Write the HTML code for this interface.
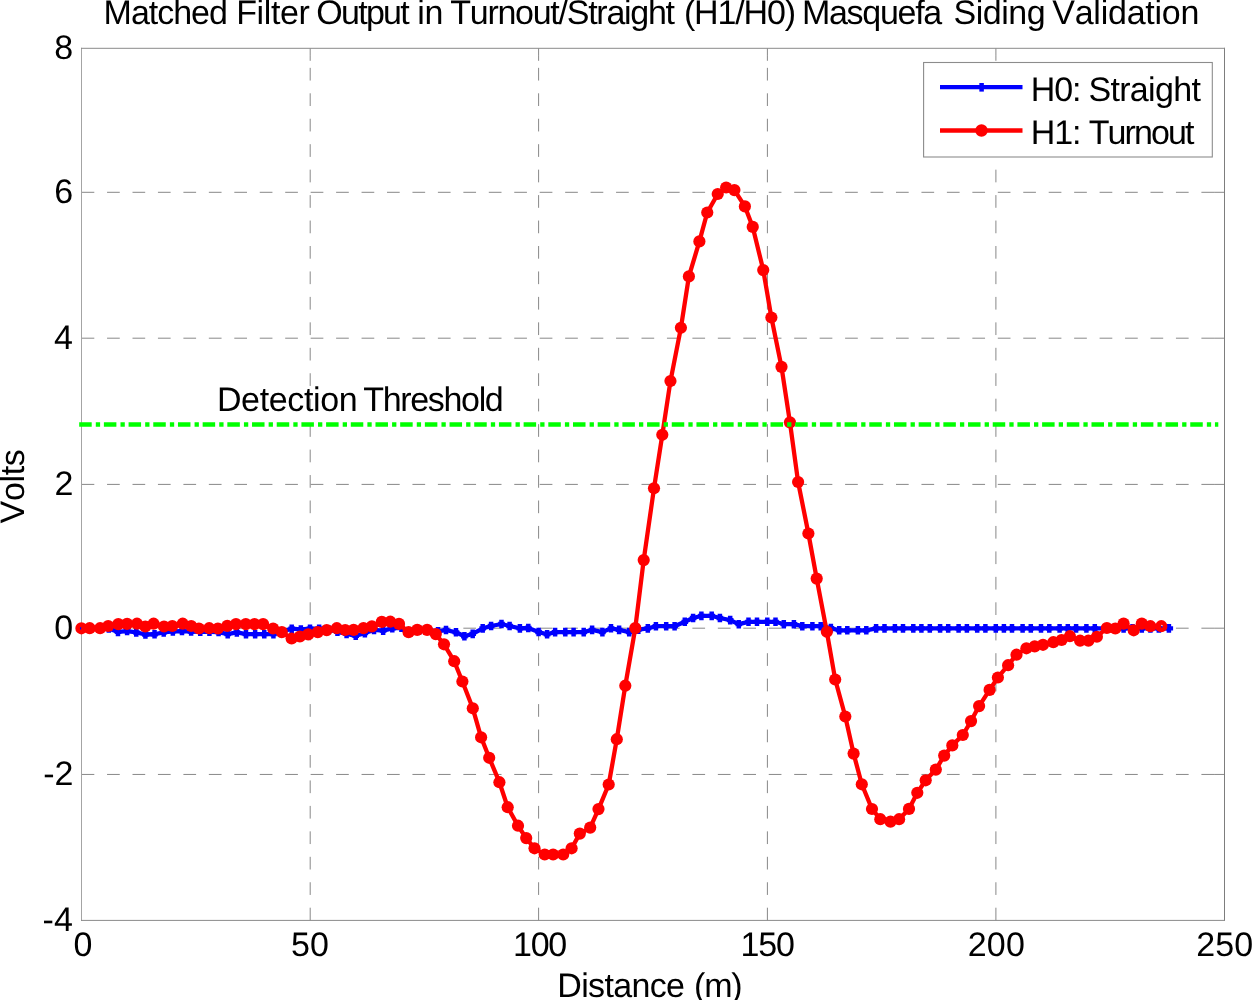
<!DOCTYPE html>
<html lang="en"><head><meta charset="utf-8"><title>Matched Filter Output</title>
<style>html,body{margin:0;padding:0;background:#fff;}body{width:1252px;height:1000px;overflow:hidden;}svg{display:block;}text{font-family:"Liberation Sans",Arial,Helvetica,sans-serif;fill:#000;font-kerning:none;white-space:pre;text-rendering:geometricPrecision;}</style></head><body>
<svg width="1252" height="1000" viewBox="0 0 1252 1000">
<rect width="1252" height="1000" fill="#fff"/>
<g stroke="#888888" stroke-width="1" fill="none" stroke-dasharray="12.7 12.75">
<line x1="310.2" y1="920.4" x2="310.2" y2="48.3"/>
<line x1="538.6" y1="920.4" x2="538.6" y2="48.3"/>
<line x1="767.4" y1="920.4" x2="767.4" y2="48.3"/>
<line x1="995.9" y1="920.4" x2="995.9" y2="48.3"/>
<line x1="81.6" y1="192.3" x2="1224.4" y2="192.3"/>
<line x1="81.6" y1="338.2" x2="1224.4" y2="338.2"/>
<line x1="81.6" y1="484.4" x2="1224.4" y2="484.4"/>
<line x1="81.6" y1="628.2" x2="1224.4" y2="628.2"/>
<line x1="81.6" y1="774.45" x2="1224.4" y2="774.45"/>
</g>
<g stroke="#888888" stroke-width="1" fill="none">
<line x1="310.2" y1="55.1" x2="310.2" y2="60.8"/>
<line x1="538.6" y1="55.1" x2="538.6" y2="60.8"/>
<line x1="767.4" y1="55.1" x2="767.4" y2="60.8"/>
<line x1="995.9" y1="55.1" x2="995.9" y2="60.8"/>
<line x1="1214.1" y1="192.3" x2="1224.4" y2="192.3"/>
<line x1="1214.1" y1="338.2" x2="1224.4" y2="338.2"/>
<line x1="1214.1" y1="484.4" x2="1224.4" y2="484.4"/>
<line x1="1214.1" y1="628.2" x2="1224.4" y2="628.2"/>
<line x1="1214.1" y1="774.45" x2="1224.4" y2="774.45"/>
</g>
<g fill="none" stroke-width="1" stroke-linecap="square">
<line x1="81.5" y1="48.3" x2="81.5" y2="920.4" stroke="#a4a4a4"/>
<line x1="1224.5" y1="48.3" x2="1224.5" y2="920.4" stroke="#7d7d7d"/>
<line x1="81.5" y1="48.3" x2="1224.5" y2="48.3" stroke="#8a8a8a"/>
<line x1="81.5" y1="920.4" x2="1224.5" y2="920.4" stroke="#8a8a8a"/>
</g>
<g id="h0">
<polyline fill="none" stroke="#0000ff" stroke-width="4.3" stroke-linejoin="round" points="81.4,628.4 90.54,628.4 99.69,628.4 108.83,628.4 117.98,631.87 127.12,631.06 136.26,632.33 145.41,634.5 154.55,634.27 163.7,632.33 172.84,631.47 181.98,631.07 191.13,631.5 200.27,631.8 209.42,631.8 218.56,632.05 227.7,634.2 236.85,632.4 245.99,634.2 255.14,634.2 264.28,634.2 273.42,634.1 282.57,631.33 291.71,628.71 300.86,629.43 310,628.71 319.14,628.73 328.29,629.35 337.43,631.8 346.58,633.91 355.72,635.77 364.86,633.08 374.01,629.88 383.15,630.69 392.3,628.31 401.44,627.75 410.58,631.99 419.73,630 428.87,630 438.02,631.3 446,630 456,632.3 464.4,636.3 472.7,633.9 482.7,628.4 491.1,626 501.5,624 509.6,626 519.9,628.4 528.3,628 538.6,632 547.1,634.3 555.1,632.1 565.3,632.1 573.6,632.1 583.7,632.1 592.1,629.9 602.4,632.1 611,628.3 619.1,629.9 629.2,632.1 638.3,629.7 647.8,628.4 655.9,626.2 666.2,626.2 674.6,626.2 684.8,621.8 693.1,618 701.4,615.9 711.7,615.9 719.9,618 730.2,620.1 738.8,624.2 748.5,621.8 757,621.8 767.3,621.8 775.5,621.8 783.8,624.2 793.9,624.2 802.3,626.2 812.4,626.2 820.7,626.2 830.9,628.1 839.2,630.3 847.3,630.3 857.9,630.3 866.3,630.3 876.1,628.4 884.5,628.4 894.9,628.4 903,628.4 913.3,628.4 921.4,628.4 929.8,628.4 940.1,628.4 948.2,628.4 958.6,628.4 966.9,628.4 977.2,628.4 985.4,628.4 995.8,628.4 1003.9,628.4 1012,628.4 1022.6,628.4 1030.8,628.4 1041,628.4 1049.3,628.4 1059.6,628.4 1067.8,628.4 1076.1,628.4 1086.4,628.4 1094.8,628.4 1105,628.4 1113.3,628.4 1123.6,628.4 1132.5,628.4 1141.8,628.4 1150.4,628.4 1158.8,628.4 1168.9,628.4"/>
<path fill="#0000ff" d="M79.15 624.1h4.5v8.6h-4.5zM88.29 624.1h4.5v8.6h-4.5zM97.44 624.1h4.5v8.6h-4.5zM106.58 624.1h4.5v8.6h-4.5zM115.73 627.57h4.5v8.6h-4.5zM124.87 626.76h4.5v8.6h-4.5zM134.01 628.03h4.5v8.6h-4.5zM143.16 630.2h4.5v8.6h-4.5zM152.3 629.97h4.5v8.6h-4.5zM161.45 628.03h4.5v8.6h-4.5zM170.59 627.17h4.5v8.6h-4.5zM179.73 626.77h4.5v8.6h-4.5zM188.88 627.2h4.5v8.6h-4.5zM198.02 627.5h4.5v8.6h-4.5zM207.17 627.5h4.5v8.6h-4.5zM216.31 627.75h4.5v8.6h-4.5zM225.45 629.9h4.5v8.6h-4.5zM234.6 628.1h4.5v8.6h-4.5zM243.74 629.9h4.5v8.6h-4.5zM252.89 629.9h4.5v8.6h-4.5zM262.03 629.9h4.5v8.6h-4.5zM271.17 629.8h4.5v8.6h-4.5zM280.32 627.03h4.5v8.6h-4.5zM289.46 624.41h4.5v8.6h-4.5zM298.61 625.13h4.5v8.6h-4.5zM307.75 624.41h4.5v8.6h-4.5zM316.89 624.43h4.5v8.6h-4.5zM326.04 625.05h4.5v8.6h-4.5zM335.18 627.5h4.5v8.6h-4.5zM344.33 629.61h4.5v8.6h-4.5zM353.47 631.47h4.5v8.6h-4.5zM362.61 628.78h4.5v8.6h-4.5zM371.76 625.58h4.5v8.6h-4.5zM380.9 626.39h4.5v8.6h-4.5zM390.05 624.01h4.5v8.6h-4.5zM399.19 623.45h4.5v8.6h-4.5zM408.33 627.69h4.5v8.6h-4.5zM417.48 625.7h4.5v8.6h-4.5zM426.62 625.7h4.5v8.6h-4.5zM435.77 627h4.5v8.6h-4.5zM443.75 625.7h4.5v8.6h-4.5zM453.75 628h4.5v8.6h-4.5zM462.15 632h4.5v8.6h-4.5zM470.45 629.6h4.5v8.6h-4.5zM480.45 624.1h4.5v8.6h-4.5zM488.85 621.7h4.5v8.6h-4.5zM499.25 619.7h4.5v8.6h-4.5zM507.35 621.7h4.5v8.6h-4.5zM517.65 624.1h4.5v8.6h-4.5zM526.05 623.7h4.5v8.6h-4.5zM536.35 627.7h4.5v8.6h-4.5zM544.85 630h4.5v8.6h-4.5zM552.85 627.8h4.5v8.6h-4.5zM563.05 627.8h4.5v8.6h-4.5zM571.35 627.8h4.5v8.6h-4.5zM581.45 627.8h4.5v8.6h-4.5zM589.85 625.6h4.5v8.6h-4.5zM600.15 627.8h4.5v8.6h-4.5zM608.75 624h4.5v8.6h-4.5zM616.85 625.6h4.5v8.6h-4.5zM626.95 627.8h4.5v8.6h-4.5zM636.05 625.4h4.5v8.6h-4.5zM645.55 624.1h4.5v8.6h-4.5zM653.65 621.9h4.5v8.6h-4.5zM663.95 621.9h4.5v8.6h-4.5zM672.35 621.9h4.5v8.6h-4.5zM682.55 617.5h4.5v8.6h-4.5zM690.85 613.7h4.5v8.6h-4.5zM699.15 611.6h4.5v8.6h-4.5zM709.45 611.6h4.5v8.6h-4.5zM717.65 613.7h4.5v8.6h-4.5zM727.95 615.8h4.5v8.6h-4.5zM736.55 619.9h4.5v8.6h-4.5zM746.25 617.5h4.5v8.6h-4.5zM754.75 617.5h4.5v8.6h-4.5zM765.05 617.5h4.5v8.6h-4.5zM773.25 617.5h4.5v8.6h-4.5zM781.55 619.9h4.5v8.6h-4.5zM791.65 619.9h4.5v8.6h-4.5zM800.05 621.9h4.5v8.6h-4.5zM810.15 621.9h4.5v8.6h-4.5zM818.45 621.9h4.5v8.6h-4.5zM828.65 623.8h4.5v8.6h-4.5zM836.95 626h4.5v8.6h-4.5zM845.05 626h4.5v8.6h-4.5zM855.65 626h4.5v8.6h-4.5zM864.05 626h4.5v8.6h-4.5zM873.85 624.1h4.5v8.6h-4.5zM882.25 624.1h4.5v8.6h-4.5zM892.65 624.1h4.5v8.6h-4.5zM900.75 624.1h4.5v8.6h-4.5zM911.05 624.1h4.5v8.6h-4.5zM919.15 624.1h4.5v8.6h-4.5zM927.55 624.1h4.5v8.6h-4.5zM937.85 624.1h4.5v8.6h-4.5zM945.95 624.1h4.5v8.6h-4.5zM956.35 624.1h4.5v8.6h-4.5zM964.65 624.1h4.5v8.6h-4.5zM974.95 624.1h4.5v8.6h-4.5zM983.15 624.1h4.5v8.6h-4.5zM993.55 624.1h4.5v8.6h-4.5zM1001.65 624.1h4.5v8.6h-4.5zM1009.75 624.1h4.5v8.6h-4.5zM1020.35 624.1h4.5v8.6h-4.5zM1028.55 624.1h4.5v8.6h-4.5zM1038.75 624.1h4.5v8.6h-4.5zM1047.05 624.1h4.5v8.6h-4.5zM1057.35 624.1h4.5v8.6h-4.5zM1065.55 624.1h4.5v8.6h-4.5zM1073.85 624.1h4.5v8.6h-4.5zM1084.15 624.1h4.5v8.6h-4.5zM1092.55 624.1h4.5v8.6h-4.5zM1102.75 624.1h4.5v8.6h-4.5zM1111.05 624.1h4.5v8.6h-4.5zM1121.35 624.1h4.5v8.6h-4.5zM1130.25 624.1h4.5v8.6h-4.5zM1139.55 624.1h4.5v8.6h-4.5zM1148.15 624.1h4.5v8.6h-4.5zM1156.55 624.1h4.5v8.6h-4.5zM1166.65 624.1h4.5v8.6h-4.5zM78.1 626.25h6.6v4.3h-6.6zM87.24 626.25h6.6v4.3h-6.6zM96.39 626.25h6.6v4.3h-6.6zM105.53 626.25h6.6v4.3h-6.6zM114.68 629.72h6.6v4.3h-6.6zM123.82 628.91h6.6v4.3h-6.6zM132.96 630.18h6.6v4.3h-6.6zM142.11 632.35h6.6v4.3h-6.6zM151.25 632.12h6.6v4.3h-6.6zM160.4 630.18h6.6v4.3h-6.6zM169.54 629.32h6.6v4.3h-6.6zM178.68 628.92h6.6v4.3h-6.6zM187.83 629.35h6.6v4.3h-6.6zM196.97 629.65h6.6v4.3h-6.6zM206.12 629.65h6.6v4.3h-6.6zM215.26 629.9h6.6v4.3h-6.6zM224.4 632.05h6.6v4.3h-6.6zM233.55 630.25h6.6v4.3h-6.6zM242.69 632.05h6.6v4.3h-6.6zM251.84 632.05h6.6v4.3h-6.6zM260.98 632.05h6.6v4.3h-6.6zM270.12 631.95h6.6v4.3h-6.6zM279.27 629.18h6.6v4.3h-6.6zM288.41 626.56h6.6v4.3h-6.6zM297.56 627.28h6.6v4.3h-6.6zM306.7 626.56h6.6v4.3h-6.6zM315.84 626.58h6.6v4.3h-6.6zM324.99 627.2h6.6v4.3h-6.6zM334.13 629.65h6.6v4.3h-6.6zM343.28 631.76h6.6v4.3h-6.6zM352.42 633.62h6.6v4.3h-6.6zM361.56 630.93h6.6v4.3h-6.6zM370.71 627.73h6.6v4.3h-6.6zM379.85 628.54h6.6v4.3h-6.6zM389 626.16h6.6v4.3h-6.6zM398.14 625.6h6.6v4.3h-6.6zM407.28 629.84h6.6v4.3h-6.6zM416.43 627.85h6.6v4.3h-6.6zM425.57 627.85h6.6v4.3h-6.6zM434.72 629.15h6.6v4.3h-6.6zM442.7 627.85h6.6v4.3h-6.6zM452.7 630.15h6.6v4.3h-6.6zM461.1 634.15h6.6v4.3h-6.6zM469.4 631.75h6.6v4.3h-6.6zM479.4 626.25h6.6v4.3h-6.6zM487.8 623.85h6.6v4.3h-6.6zM498.2 621.85h6.6v4.3h-6.6zM506.3 623.85h6.6v4.3h-6.6zM516.6 626.25h6.6v4.3h-6.6zM525 625.85h6.6v4.3h-6.6zM535.3 629.85h6.6v4.3h-6.6zM543.8 632.15h6.6v4.3h-6.6zM551.8 629.95h6.6v4.3h-6.6zM562 629.95h6.6v4.3h-6.6zM570.3 629.95h6.6v4.3h-6.6zM580.4 629.95h6.6v4.3h-6.6zM588.8 627.75h6.6v4.3h-6.6zM599.1 629.95h6.6v4.3h-6.6zM607.7 626.15h6.6v4.3h-6.6zM615.8 627.75h6.6v4.3h-6.6zM625.9 629.95h6.6v4.3h-6.6zM635 627.55h6.6v4.3h-6.6zM644.5 626.25h6.6v4.3h-6.6zM652.6 624.05h6.6v4.3h-6.6zM662.9 624.05h6.6v4.3h-6.6zM671.3 624.05h6.6v4.3h-6.6zM681.5 619.65h6.6v4.3h-6.6zM689.8 615.85h6.6v4.3h-6.6zM698.1 613.75h6.6v4.3h-6.6zM708.4 613.75h6.6v4.3h-6.6zM716.6 615.85h6.6v4.3h-6.6zM726.9 617.95h6.6v4.3h-6.6zM735.5 622.05h6.6v4.3h-6.6zM745.2 619.65h6.6v4.3h-6.6zM753.7 619.65h6.6v4.3h-6.6zM764 619.65h6.6v4.3h-6.6zM772.2 619.65h6.6v4.3h-6.6zM780.5 622.05h6.6v4.3h-6.6zM790.6 622.05h6.6v4.3h-6.6zM799 624.05h6.6v4.3h-6.6zM809.1 624.05h6.6v4.3h-6.6zM817.4 624.05h6.6v4.3h-6.6zM827.6 625.95h6.6v4.3h-6.6zM835.9 628.15h6.6v4.3h-6.6zM844 628.15h6.6v4.3h-6.6zM854.6 628.15h6.6v4.3h-6.6zM863 628.15h6.6v4.3h-6.6zM872.8 626.25h6.6v4.3h-6.6zM881.2 626.25h6.6v4.3h-6.6zM891.6 626.25h6.6v4.3h-6.6zM899.7 626.25h6.6v4.3h-6.6zM910 626.25h6.6v4.3h-6.6zM918.1 626.25h6.6v4.3h-6.6zM926.5 626.25h6.6v4.3h-6.6zM936.8 626.25h6.6v4.3h-6.6zM944.9 626.25h6.6v4.3h-6.6zM955.3 626.25h6.6v4.3h-6.6zM963.6 626.25h6.6v4.3h-6.6zM973.9 626.25h6.6v4.3h-6.6zM982.1 626.25h6.6v4.3h-6.6zM992.5 626.25h6.6v4.3h-6.6zM1000.6 626.25h6.6v4.3h-6.6zM1008.7 626.25h6.6v4.3h-6.6zM1019.3 626.25h6.6v4.3h-6.6zM1027.5 626.25h6.6v4.3h-6.6zM1037.7 626.25h6.6v4.3h-6.6zM1046 626.25h6.6v4.3h-6.6zM1056.3 626.25h6.6v4.3h-6.6zM1064.5 626.25h6.6v4.3h-6.6zM1072.8 626.25h6.6v4.3h-6.6zM1083.1 626.25h6.6v4.3h-6.6zM1091.5 626.25h6.6v4.3h-6.6zM1101.7 626.25h6.6v4.3h-6.6zM1110 626.25h6.6v4.3h-6.6zM1120.3 626.25h6.6v4.3h-6.6zM1129.2 626.25h6.6v4.3h-6.6zM1138.5 626.25h6.6v4.3h-6.6zM1147.1 626.25h6.6v4.3h-6.6zM1155.5 626.25h6.6v4.3h-6.6zM1165.6 626.25h6.6v4.3h-6.6zM1168.9 626.25h4.2v4.3h-4.2z"/>
</g>
<g id="h1">
<polyline fill="none" stroke="#ff0000" stroke-width="4.3" stroke-linejoin="round" points="81.4,628.3 89.7,628.2 100.1,628.2 108.2,626 118.3,624.1 127.1,623.9 137,623.7 145.3,626.5 153.6,623.7 164,626.5 172.3,626 182.7,623.7 191.2,626 198.9,628.5 209.2,628.2 217.9,628.5 227.3,625.9 236,624.1 245.8,624.1 254.5,624.1 263.1,624.1 273.1,628.5 281.8,632.1 291.6,638.5 299.9,636.5 308.2,634.4 317.8,632.1 326.7,630.1 336.8,628.2 345.2,630 353.6,629.9 363.5,628.1 371.9,626.4 381.8,621.9 390.3,621.7 399,623.9 408.6,632.2 417.2,629.9 427.1,629.9 435.8,634.1 444,644.3 454.2,661.2 462.4,681.5 472.8,708.3 481.1,737.3 489.2,757.8 499.4,782.2 507.7,807.2 518,825.7 526.2,838.1 534.5,848.3 544.7,854.5 553.1,854.5 563.2,854.5 571.6,848.3 579.8,833.6 590.2,827.6 598.5,809.1 608.7,784.5 616.8,739.2 625.3,685.7 635.3,628.1 643.7,560.1 654,488.3 662.3,434.8 670.45,381.05 680.9,327.8 688.9,276.4 699.4,241.4 707.25,212.5 717.75,194 726.15,187.5 734.4,190.1 744.9,206.4 752.75,226.9 763.25,270.1 771.4,317.5 781.5,366.85 789.95,422.35 798.1,482 808.4,533.5 816.7,578.6 826.85,631.8 835.2,679.5 845.3,716.5 853.6,753.6 861.8,784.3 872,809 880.3,819.2 890.5,821.6 899.1,819.2 909,808.9 917.3,792.8 925.7,780.3 935.8,769.6 944.2,755.6 952.3,745.4 962.8,735 971.05,721.1 979.1,706.1 989.6,689.9 997.9,677.5 1008.1,665.2 1016.5,654.7 1026.4,648.3 1034.7,646.4 1043,644.8 1053.3,642.2 1061.6,640 1069.9,636.2 1080.1,640.7 1088.4,640.7 1096.9,636.75 1106.85,628 1115.3,628.5 1123.6,623.6 1133.7,630.3 1141.8,623.6 1150.4,626.2 1161.3,626.2"/>
<circle cx="81.4" cy="628.3" r="3.8" fill="none" stroke="#ff0000" stroke-width="4.6"/>
<circle cx="89.7" cy="628.2" r="6.1" fill="#ff0000"/>
<circle cx="100.1" cy="628.2" r="6.1" fill="#ff0000"/>
<circle cx="108.2" cy="626" r="6.1" fill="#ff0000"/>
<circle cx="118.3" cy="624.1" r="6.1" fill="#ff0000"/>
<circle cx="127.1" cy="623.9" r="6.1" fill="#ff0000"/>
<circle cx="137" cy="623.7" r="6.1" fill="#ff0000"/>
<circle cx="145.3" cy="626.5" r="6.1" fill="#ff0000"/>
<circle cx="153.6" cy="623.7" r="6.1" fill="#ff0000"/>
<circle cx="164" cy="626.5" r="6.1" fill="#ff0000"/>
<circle cx="172.3" cy="626" r="6.1" fill="#ff0000"/>
<circle cx="182.7" cy="623.7" r="6.1" fill="#ff0000"/>
<circle cx="191.2" cy="626" r="6.1" fill="#ff0000"/>
<circle cx="198.9" cy="628.5" r="6.1" fill="#ff0000"/>
<circle cx="209.2" cy="628.2" r="6.1" fill="#ff0000"/>
<circle cx="217.9" cy="628.5" r="6.1" fill="#ff0000"/>
<circle cx="227.3" cy="625.9" r="6.1" fill="#ff0000"/>
<circle cx="236" cy="624.1" r="6.1" fill="#ff0000"/>
<circle cx="245.8" cy="624.1" r="6.1" fill="#ff0000"/>
<circle cx="254.5" cy="624.1" r="6.1" fill="#ff0000"/>
<circle cx="263.1" cy="624.1" r="6.1" fill="#ff0000"/>
<circle cx="273.1" cy="628.5" r="6.1" fill="#ff0000"/>
<circle cx="281.8" cy="632.1" r="6.1" fill="#ff0000"/>
<circle cx="291.6" cy="638.5" r="6.1" fill="#ff0000"/>
<circle cx="299.9" cy="636.5" r="6.1" fill="#ff0000"/>
<circle cx="308.2" cy="634.4" r="6.1" fill="#ff0000"/>
<circle cx="317.8" cy="632.1" r="6.1" fill="#ff0000"/>
<circle cx="326.7" cy="630.1" r="6.1" fill="#ff0000"/>
<circle cx="336.8" cy="628.2" r="6.1" fill="#ff0000"/>
<circle cx="345.2" cy="630" r="6.1" fill="#ff0000"/>
<circle cx="353.6" cy="629.9" r="6.1" fill="#ff0000"/>
<circle cx="363.5" cy="628.1" r="6.1" fill="#ff0000"/>
<circle cx="371.9" cy="626.4" r="6.1" fill="#ff0000"/>
<circle cx="381.8" cy="621.9" r="6.1" fill="#ff0000"/>
<circle cx="390.3" cy="621.7" r="6.1" fill="#ff0000"/>
<circle cx="399" cy="623.9" r="6.1" fill="#ff0000"/>
<circle cx="408.6" cy="632.2" r="6.1" fill="#ff0000"/>
<circle cx="417.2" cy="629.9" r="6.1" fill="#ff0000"/>
<circle cx="427.1" cy="629.9" r="6.1" fill="#ff0000"/>
<circle cx="435.8" cy="634.1" r="6.1" fill="#ff0000"/>
<circle cx="444" cy="644.3" r="6.1" fill="#ff0000"/>
<circle cx="454.2" cy="661.2" r="6.1" fill="#ff0000"/>
<circle cx="462.4" cy="681.5" r="6.1" fill="#ff0000"/>
<circle cx="472.8" cy="708.3" r="6.1" fill="#ff0000"/>
<circle cx="481.1" cy="737.3" r="6.1" fill="#ff0000"/>
<circle cx="489.2" cy="757.8" r="6.1" fill="#ff0000"/>
<circle cx="499.4" cy="782.2" r="6.1" fill="#ff0000"/>
<circle cx="507.7" cy="807.2" r="6.1" fill="#ff0000"/>
<circle cx="518" cy="825.7" r="6.1" fill="#ff0000"/>
<circle cx="526.2" cy="838.1" r="6.1" fill="#ff0000"/>
<circle cx="534.5" cy="848.3" r="6.1" fill="#ff0000"/>
<circle cx="544.7" cy="854.5" r="6.1" fill="#ff0000"/>
<circle cx="553.1" cy="854.5" r="6.1" fill="#ff0000"/>
<circle cx="563.2" cy="854.5" r="6.1" fill="#ff0000"/>
<circle cx="571.6" cy="848.3" r="6.1" fill="#ff0000"/>
<circle cx="579.8" cy="833.6" r="6.1" fill="#ff0000"/>
<circle cx="590.2" cy="827.6" r="6.1" fill="#ff0000"/>
<circle cx="598.5" cy="809.1" r="6.1" fill="#ff0000"/>
<circle cx="608.7" cy="784.5" r="6.1" fill="#ff0000"/>
<circle cx="616.8" cy="739.2" r="6.1" fill="#ff0000"/>
<circle cx="625.3" cy="685.7" r="6.1" fill="#ff0000"/>
<circle cx="635.3" cy="628.1" r="6.1" fill="#ff0000"/>
<circle cx="643.7" cy="560.1" r="6.1" fill="#ff0000"/>
<circle cx="654" cy="488.3" r="6.1" fill="#ff0000"/>
<circle cx="662.3" cy="434.8" r="6.1" fill="#ff0000"/>
<circle cx="670.45" cy="381.05" r="6.1" fill="#ff0000"/>
<circle cx="680.9" cy="327.8" r="6.1" fill="#ff0000"/>
<circle cx="688.9" cy="276.4" r="6.1" fill="#ff0000"/>
<circle cx="699.4" cy="241.4" r="6.1" fill="#ff0000"/>
<circle cx="707.25" cy="212.5" r="6.1" fill="#ff0000"/>
<circle cx="717.75" cy="194" r="6.1" fill="#ff0000"/>
<circle cx="726.15" cy="187.5" r="6.1" fill="#ff0000"/>
<circle cx="734.4" cy="190.1" r="6.1" fill="#ff0000"/>
<circle cx="744.9" cy="206.4" r="6.1" fill="#ff0000"/>
<circle cx="752.75" cy="226.9" r="6.1" fill="#ff0000"/>
<circle cx="763.25" cy="270.1" r="6.1" fill="#ff0000"/>
<circle cx="771.4" cy="317.5" r="6.1" fill="#ff0000"/>
<circle cx="781.5" cy="366.85" r="6.1" fill="#ff0000"/>
<circle cx="789.95" cy="422.35" r="6.1" fill="#ff0000"/>
<circle cx="798.1" cy="482" r="6.1" fill="#ff0000"/>
<circle cx="808.4" cy="533.5" r="6.1" fill="#ff0000"/>
<circle cx="816.7" cy="578.6" r="6.1" fill="#ff0000"/>
<circle cx="826.85" cy="631.8" r="6.1" fill="#ff0000"/>
<circle cx="835.2" cy="679.5" r="6.1" fill="#ff0000"/>
<circle cx="845.3" cy="716.5" r="6.1" fill="#ff0000"/>
<circle cx="853.6" cy="753.6" r="6.1" fill="#ff0000"/>
<circle cx="861.8" cy="784.3" r="6.1" fill="#ff0000"/>
<circle cx="872" cy="809" r="6.1" fill="#ff0000"/>
<circle cx="880.3" cy="819.2" r="6.1" fill="#ff0000"/>
<circle cx="890.5" cy="821.6" r="6.1" fill="#ff0000"/>
<circle cx="899.1" cy="819.2" r="6.1" fill="#ff0000"/>
<circle cx="909" cy="808.9" r="6.1" fill="#ff0000"/>
<circle cx="917.3" cy="792.8" r="6.1" fill="#ff0000"/>
<circle cx="925.7" cy="780.3" r="6.1" fill="#ff0000"/>
<circle cx="935.8" cy="769.6" r="6.1" fill="#ff0000"/>
<circle cx="944.2" cy="755.6" r="6.1" fill="#ff0000"/>
<circle cx="952.3" cy="745.4" r="6.1" fill="#ff0000"/>
<circle cx="962.8" cy="735" r="6.1" fill="#ff0000"/>
<circle cx="971.05" cy="721.1" r="6.1" fill="#ff0000"/>
<circle cx="979.1" cy="706.1" r="6.1" fill="#ff0000"/>
<circle cx="989.6" cy="689.9" r="6.1" fill="#ff0000"/>
<circle cx="997.9" cy="677.5" r="6.1" fill="#ff0000"/>
<circle cx="1008.1" cy="665.2" r="6.1" fill="#ff0000"/>
<circle cx="1016.5" cy="654.7" r="6.1" fill="#ff0000"/>
<circle cx="1026.4" cy="648.3" r="6.1" fill="#ff0000"/>
<circle cx="1034.7" cy="646.4" r="6.1" fill="#ff0000"/>
<circle cx="1043" cy="644.8" r="6.1" fill="#ff0000"/>
<circle cx="1053.3" cy="642.2" r="6.1" fill="#ff0000"/>
<circle cx="1061.6" cy="640" r="6.1" fill="#ff0000"/>
<circle cx="1069.9" cy="636.2" r="6.1" fill="#ff0000"/>
<circle cx="1080.1" cy="640.7" r="6.1" fill="#ff0000"/>
<circle cx="1088.4" cy="640.7" r="6.1" fill="#ff0000"/>
<circle cx="1096.9" cy="636.75" r="6.1" fill="#ff0000"/>
<circle cx="1106.85" cy="628" r="6.1" fill="#ff0000"/>
<circle cx="1115.3" cy="628.5" r="6.1" fill="#ff0000"/>
<circle cx="1123.6" cy="623.6" r="6.1" fill="#ff0000"/>
<circle cx="1133.7" cy="630.3" r="6.1" fill="#ff0000"/>
<circle cx="1141.8" cy="623.6" r="6.1" fill="#ff0000"/>
<circle cx="1150.4" cy="626.2" r="6.1" fill="#ff0000"/>
<circle cx="1161.3" cy="626.2" r="3.8" fill="none" stroke="#ff0000" stroke-width="4.6"/>
<line x1="81.4" y1="628.3" x2="89.7" y2="628.2" stroke="#ff0000" stroke-width="4.3"/>
</g>
<line x1="79.2" y1="424.5" x2="1218.3" y2="424.5" stroke="#00ff00" stroke-width="4.4" stroke-dasharray="12.5 4.1 4.3 3.79"/>
<rect x="923.6" y="62.5" width="288.7" height="94.5" fill="#fff" stroke="#8c8c8c" stroke-width="1.1"/>
<line x1="940" y1="87.2" x2="1022.5" y2="87.2" stroke="#0000ff" stroke-width="4.3"/>
<rect x="979.35" y="83" width="4.5" height="8.6" fill="#0000ff"/>
<line x1="940" y1="130.5" x2="1022.5" y2="130.5" stroke="#ff0000" stroke-width="4.3"/>
<circle cx="981.5" cy="130.5" r="6.2" fill="#ff0000"/>
<text y="101" font-size="34"><tspan x="1030.81" letter-spacing="-1.108">H0:</tspan> <tspan x="1088.46" letter-spacing="-0.683">Straight</tspan></text>
<text y="144" font-size="34"><tspan x="1030.81" letter-spacing="-1.108">H1:</tspan> <tspan x="1088.74" letter-spacing="-1.910">Turnout</tspan></text>
<text y="24" font-size="34"><tspan x="103.61" letter-spacing="-1.037">Matched</tspan> <tspan x="236.21" letter-spacing="-0.380">Filter</tspan> <tspan x="316.29" letter-spacing="-1.721">Output</tspan> <tspan x="417.23" letter-spacing="-0.280">in</tspan> <tspan x="450.24" letter-spacing="-1.265">Turnout/Straight</tspan> <tspan x="683.89" letter-spacing="-1.133">(H1/H0)</tspan> <tspan x="802.01" letter-spacing="-1.304">Masquefa</tspan> <tspan x="953.46" letter-spacing="-0.455">Siding</tspan> <tspan x="1052.25" letter-spacing="-0.242">Validation</tspan></text>
<text x="73.28" y="59.00" font-size="34" text-anchor="end">8</text>
<text x="73.29" y="203.00" font-size="34" text-anchor="end">6</text>
<text x="72.80" y="349.00" font-size="34" text-anchor="end">4</text>
<text x="73.51" y="495.00" font-size="34" text-anchor="end">2</text>
<text x="73.13" y="639.00" font-size="34" text-anchor="end">0</text>
<text x="73.51" y="785.00" font-size="34" text-anchor="end">-2</text>
<text x="72.80" y="931.00" font-size="34" text-anchor="end">-4</text>
<text x="73.47" y="956.00" font-size="34" letter-spacing="0.000">0</text>
<text x="291.04" y="956.00" font-size="34" letter-spacing="-0.029">50</text>
<text x="513.01" y="956.00" font-size="34" letter-spacing="-1.255">100</text>
<text x="740.61" y="956.00" font-size="34" letter-spacing="-1.205">150</text>
<text x="967.69" y="956.00" font-size="34" letter-spacing="0.205">200</text>
<text x="1196.19" y="956.00" font-size="34" letter-spacing="0.105">250</text>
<text y="997" font-size="34"><tspan x="557.31" letter-spacing="-0.669">Distance</tspan> <tspan x="694.09" letter-spacing="-1.275">(m)</tspan></text>
<g transform="translate(23.7 523.3) rotate(-90)"><text x="-0.15" y="0.00" font-size="34" letter-spacing="-0.327">Volts</text></g>
<text y="411" font-size="34"><tspan x="216.91" letter-spacing="-0.367">Detection</tspan> <tspan x="363.34" letter-spacing="-1.342">Threshold</tspan></text>
</svg></body></html>
